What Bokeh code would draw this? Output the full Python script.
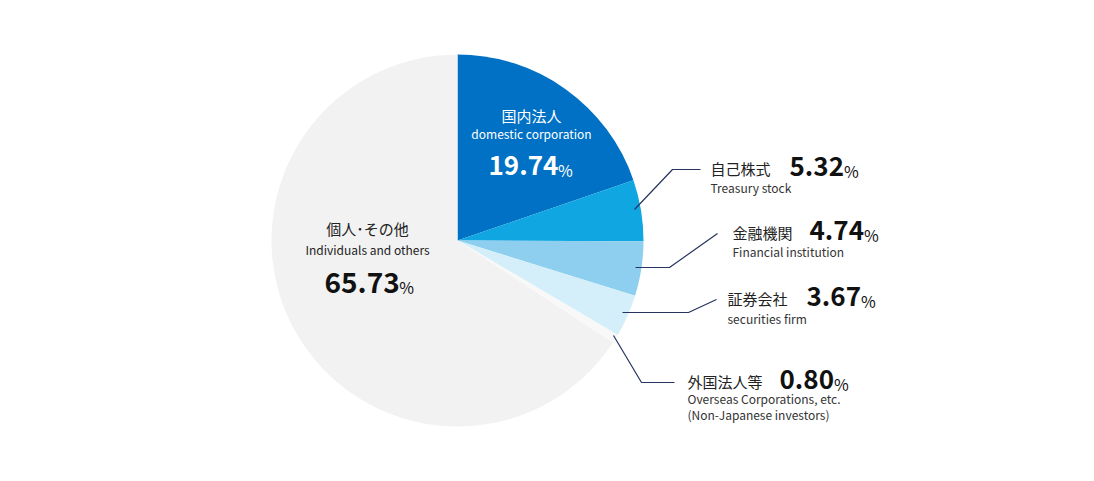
import math
from bokeh.plotting import figure
from bokeh.models import ColumnDataSource, Range1d
from bokeh.core.properties import value
from bokeh.embed import file_html
from bokeh.resources import INLINE

# ---- data ----
categories_jp = ["国内法人", "自己株式", "金融機関", "証券会社", "外国法人等", "個人･その他"]
categories_en = ["domestic corporation", "Treasury stock", "Financial institution",
                 "securities firm", "Overseas Corporations, etc.\n(Non-Japanese investors)",
                 "Individuals and others"]
shares = [19.74, 5.32, 4.74, 3.67, 0.80, 65.73]
colors = ["#0071c5", "#10a6e1", "#8ecfef", "#d4eff9", "#f8f8f8", "#f2f2f2"]

W, H = 1078, 465
FONT = "Noto Sans CJK JP"

def Y(py):
    return H - py

def X(px):
    return px

def num_adv(s, fs):
    # approximate advance of a bold number string
    return sum((0.28 if c == "." else 0.58) for c in s) * fs

cx, cy, R = 457, 240, 186

p = figure(width=W, height=H, output_backend="svg", toolbar_location=None,
           x_range=Range1d(0, W), y_range=Range1d(0, H),
           min_border=0, outline_line_color=None)
p.axis.visible = False
p.grid.visible = False
p.background_fill_color = "white"
p.border_fill_color = "white"

total = sum(shares)
starts, ends = [], []
acc = 0.0
for s in shares:
    starts.append(math.pi / 2 - acc / total * 2 * math.pi)
    acc += s
    ends.append(math.pi / 2 - acc / total * 2 * math.pi)

src = ColumnDataSource(dict(x=[cx] * len(shares), y=[Y(cy)] * len(shares),
                            start=starts, end=ends, color=colors))
p.wedge(x="x", y="y", radius=R, start_angle="start", end_angle="end",
        direction="clock", fill_color="color", line_color=None, source=src)

# ---- leader lines (layout) ----
leaders = [
    None,
    ([634, 672, 700], [209, 169, 169]),
    ([635, 669, 717], [267, 267, 233]),
    ([622, 688, 716], [312, 312, 299]),
    ([613, 641, 674], [335, 382, 382]),
    None,
]
for ld in leaders:
    if ld:
        p.line([X(v) for v in ld[0]], [Y(v) for v in ld[1]], line_color="#26345f", line_width=1.2)

tf = value(FONT)

def draw_number(left, mid, txt, fs, color):
    p.text([X(left)], [Y(mid)], text=[txt], text_font=tf, text_font_size=f"{fs}px",
           text_font_style="bold", text_color=color, text_baseline="middle",
           text_align="left")
    p.text([X(left + num_adv(txt, fs) + 2)], [Y(mid + 4)], text=["%"], text_font=tf,
           text_font_size="16px", text_color=color, text_baseline="middle",
           text_align="left")

# ---- outside labels: (jp_x, jp_y, num_x, en_y) ----
outside = {
    1: (710, 168, 789, 187),
    2: (732, 232, 809, 251),
    3: (727, 298, 806, 318),
    4: (687, 381, 779, 398),
}
for i, (jx, jy, nx, ey) in outside.items():
    p.text([X(jx)], [Y(jy)], text=[categories_jp[i]], text_font=tf, text_font_size="15px",
           text_color="#222222", text_baseline="middle", text_align="left")
    for k, ln in enumerate(categories_en[i].split("\n")):
        p.text([X(jx)], [Y(ey + k * 16)], text=[ln], text_font=tf, text_font_size="12px",
               text_color="#333333", text_baseline="middle", text_align="left")
    draw_number(nx, jy - 2, f"{shares[i]:.2f}", 26, "#111111")

# ---- inside labels: (center_x, jp_y, en_y, num_left, num_mid, fs, c1, c2) ----
inside = {0: (531, 115, 133, 488, 165, 26, "white", "white"),
          5: (367, 228, 249, 324, 282, 28, "#222222", "#111111")}
for i, (mx, jy, ey, nl, nm, fs, c1, c2) in inside.items():
    p.text([X(mx)], [Y(jy)], text=[categories_jp[i]], text_font=tf, text_font_size="15px",
           text_color=c1, text_baseline="middle", text_align="center")
    p.text([X(mx)], [Y(ey)], text=[categories_en[i]], text_font=tf, text_font_size="12px",
           text_color=c1, text_baseline="middle", text_align="center")
    draw_number(nl, nm, f"{shares[i]:.2f}", fs, c2)

open("out.html", "w").write(file_html(p, INLINE))
